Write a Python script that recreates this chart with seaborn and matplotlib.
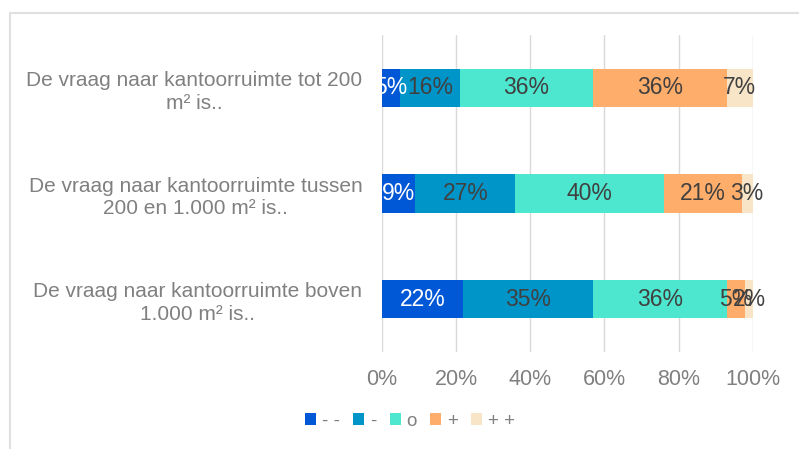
import matplotlib
matplotlib.use("Agg")
import matplotlib.pyplot as plt
import seaborn as sns
from matplotlib.patches import Patch, Rectangle

# Data
categories = [
    "De vraag naar kantoorruimte tot 200\nm² is..",
    "De vraag naar kantoorruimte tussen\n200 en 1.000 m² is..",
    "De vraag naar kantoorruimte boven\n1.000 m² is..",
]
levels = ["- -", "-", "o", "+", "+ +"]
values = {
    "- -": [5, 9, 22],
    "-": [16, 27, 35],
    "o": [36, 40, 36],
    "+": [36, 21, 5],
    "+ +": [7, 3, 2],
}
colors = ["#0058D6", "#0095C8", "#4DE6CF", "#FFAD6A", "#F8E5C8"]
label_colors = ["white", "#404040", "#404040", "#404040", "#404040"]

sns.set_style("white")
plt.rcParams["font.family"] = ["Liberation Sans", "DejaVu Sans"]

fig = plt.figure(figsize=(7.99, 4.49), dpi=100)
ax = fig.add_axes([0.478, 0.216, 0.464, 0.706])

# cumulative totals, drawn from the back (largest) to the front
cum = {}
running = [0, 0, 0]
for lev in levels:
    running = [r + v for r, v in zip(running, values[lev])]
    cum[lev] = list(running)

for lev, col in reversed(list(zip(levels, colors))):
    sns.barplot(x=cum[lev], y=categories, color=col, width=0.36,
                linewidth=0, saturation=1, ax=ax, zorder=3)

for lev, tc in zip(levels, label_colors):
    for i, (c, v) in enumerate(zip(cum[lev], values[lev])):
        ax.text(c - v / 2, i, f"{v}%", ha="center", va="center",
                fontsize=16.5, color=tc, zorder=5)

ax.set_xlim(0, 100)
ax.set_xticks([0, 20, 40, 60, 80, 100])
ax.set_xticklabels([f"{t}%" for t in [0, 20, 40, 60, 80, 100]])
ax.xaxis.grid(True, color="#D9D9D9", linewidth=1)
ax.set_axisbelow(True)
ax.tick_params(axis="x", length=0, pad=12, labelsize=15.5, labelcolor="#808080")
ax.tick_params(axis="y", length=0, pad=14, labelsize=15, labelcolor="#808080")
for lbl in ax.get_yticklabels():
    lbl.set_multialignment("center")
    lbl.set_linespacing(1.25)
for s in ax.spines.values():
    s.set_visible(False)
ax.set_xlabel("")
ax.set_ylabel("")

handles = [Patch(facecolor=c, edgecolor="none") for c in colors]
fig.legend(handles, levels, loc="center", bbox_to_anchor=(0.513, 0.062),
           ncol=5, frameon=False, fontsize=13.5, handlelength=0.6,
           handleheight=0.6, handletextpad=0.3, columnspacing=0.7,
           labelcolor="#808080")

# light frame around the chart area
fig.patches.append(Rectangle((0.0125, -0.02), 1.1, 0.99, transform=fig.transFigure,
                             fill=False, edgecolor="#E0E0E0", linewidth=1.5))

fig.savefig("out.png", dpi=100)
